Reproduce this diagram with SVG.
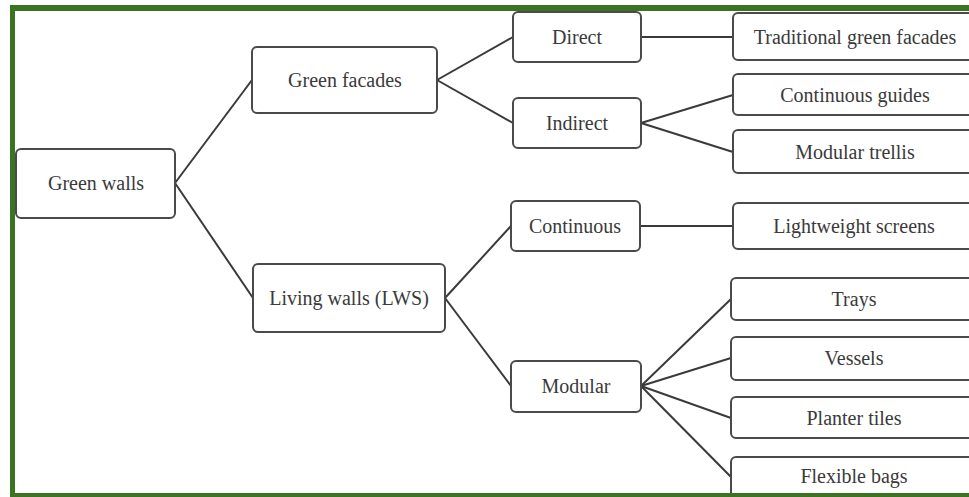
<svg xmlns="http://www.w3.org/2000/svg" width="969" height="497" viewBox="0 0 969 497">
<style>
.n rect{fill:#fff;stroke:#4a4a4a;stroke-width:2}
.n text{font-family:"Liberation Serif","Times New Roman",serif;font-size:20px;fill:#3a3a3a;text-anchor:middle;dominant-baseline:central}
#edges line{stroke:#3a3a3a;stroke-width:2}
.frame{fill:#3b7421}
</style>
<rect width="969" height="497" fill="#fff"/>
<g id="frame">
<rect class="frame" x="10" y="5" width="959" height="6"/>
<rect class="frame" x="10" y="5" width="5" height="492"/>
</g>
<g id="edges">
<line x1="175" y1="183" x2="252" y2="80"/>
<line x1="175" y1="183" x2="253" y2="298"/>
<line x1="437" y1="80" x2="513" y2="37"/>
<line x1="437" y1="80" x2="513" y2="123"/>
<line x1="641" y1="37" x2="733" y2="37"/>
<line x1="641" y1="123" x2="733" y2="95"/>
<line x1="641" y1="123" x2="733" y2="152"/>
<line x1="445" y1="298" x2="511" y2="226"/>
<line x1="445" y1="298" x2="511" y2="386"/>
<line x1="640" y1="226" x2="733" y2="226"/>
<line x1="641" y1="386" x2="731" y2="299"/>
<line x1="641" y1="386" x2="731" y2="358"/>
<line x1="641" y1="386" x2="731" y2="418"/>
<line x1="641" y1="386" x2="731" y2="477"/>
</g>
<g id="green-walls" class="n"><rect x="16" y="149" width="159" height="69" rx="5"/><text x="96" y="183">Green walls</text></g>
<g id="green-facades" class="n"><rect x="252" y="47" width="185" height="66" rx="5"/><text x="345" y="80">Green facades</text></g>
<g id="living-walls" class="n"><rect x="253" y="264" width="192" height="68" rx="5"/><text x="349" y="298">Living walls (LWS)</text></g>
<g id="direct" class="n"><rect x="513" y="12" width="128" height="50" rx="5"/><text x="577" y="37">Direct</text></g>
<g id="indirect" class="n"><rect x="513" y="98" width="128" height="50" rx="5"/><text x="577" y="123">Indirect</text></g>
<g id="continuous" class="n"><rect x="511" y="201" width="129" height="50" rx="5"/><text x="575" y="226">Continuous</text></g>
<g id="modular" class="n"><rect x="511" y="361" width="130" height="51" rx="5"/><text x="576" y="386">Modular</text></g>
<g id="traditional" class="n"><rect x="733" y="13" width="245" height="47" rx="5"/><text x="855" y="37">Traditional green facades</text></g>
<g id="continuous-guides" class="n"><rect x="733" y="74" width="245" height="41" rx="5"/><text x="855" y="95">Continuous guides</text></g>
<g id="modular-trellis" class="n"><rect x="733" y="130" width="245" height="43" rx="5"/><text x="855" y="152">Modular trellis</text></g>
<g id="lightweight-screens" class="n"><rect x="733" y="203" width="245" height="46" rx="5"/><text x="854" y="226">Lightweight screens</text></g>
<g id="trays" class="n"><rect x="731" y="278" width="247" height="42" rx="5"/><text x="854" y="299">Trays</text></g>
<g id="vessels" class="n"><rect x="731" y="337" width="247" height="43" rx="5"/><text x="854" y="358">Vessels</text></g>
<g id="planter-tiles" class="n"><rect x="731" y="397" width="247" height="41" rx="5"/><text x="854" y="418">Planter tiles</text></g>
<g id="flexible-bags" class="n"><rect x="731" y="457" width="247" height="45" rx="5"/><text x="854" y="476">Flexible bags</text></g>
<rect class="frame" x="10" y="493" width="959" height="4"/>
</svg>
